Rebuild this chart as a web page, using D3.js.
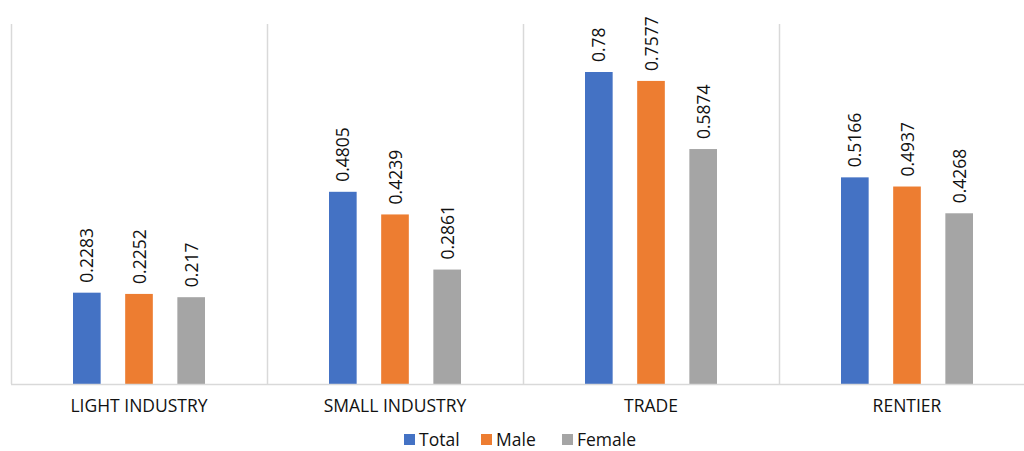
<!DOCTYPE html>
<html>
<head>
<meta charset="utf-8">
<script src="https://cdn.jsdelivr.net/npm/d3@7"></script>
<style>
  body { margin: 0; background: #fff; }
  text { font-family: "Open Sans", "Liberation Sans", sans-serif; fill: #111; }
</style>
</head>
<body>
<div id="canvas"></div>
<script>
const categories = ["LIGHT INDUSTRY", "SMALL INDUSTRY", "TRADE", "RENTIER"];
const seriesNames = ["Total", "Male", "Female"];
const total = [0.2283, 0.4805, 0.78, 0.5166];
const male = [0.2252, 0.4239, 0.7577, 0.4937];
const female = [0.217, 0.2861, 0.5874, 0.4268];
const colors = ["#4472c4", "#ed7d31", "#a5a5a5"];

const width = 1024;
const height = 451;
const margin = { top: 24, left: 11, bottom: 67, right: -11 };
const iwidth = width - margin.left - margin.right;
const iheight = height - margin.top - margin.bottom;

const svg = d3.select("#canvas").append("svg")
  .attr("width", width)
  .attr("height", height);

const g = svg.append("g").attr("transform", `translate(${margin.left},${margin.top})`);

const allSeries = [total, male, female];
const data = categories.map((c, i) => ({
  name: c,
  values: seriesNames.map((s, j) => ({ series: s, value: allSeries[j][i], idx: j }))
}));

const x = d3.scaleBand().domain(categories).range([0, iwidth]).padding(0);
const xin = d3.scaleBand().domain(seriesNames).range([62, 194]).paddingInner(0.47);
const y = d3.scaleLinear().domain([0, 0.9]).range([iheight, 0]);

// vertical separators
g.selectAll("line.sep").data(categories).enter().append("line")
  .attr("class", "sep")
  .attr("x1", d => x(d) + 0.5).attr("x2", d => x(d) + 0.5)
  .attr("y1", 0).attr("y2", iheight)
  .attr("stroke", "#d9d9d9").attr("stroke-width", 1.5);

const groups = g.selectAll("g.cat").data(data).enter().append("g")
  .attr("class", "cat")
  .attr("transform", d => `translate(${x(d.name)},0)`);

groups.selectAll("rect").data(d => d.values).enter().append("rect")
  .attr("x", d => xin(d.series))
  .attr("y", d => y(d.value))
  .attr("width", xin.bandwidth())
  .attr("height", d => iheight - y(d.value))
  .style("fill", d => colors[d.idx]);

groups.selectAll("text.val").data(d => d.values).enter().append("text")
  .attr("class", "val")
  .attr("transform", d => `translate(${xin(d.series) + xin.bandwidth() / 2 + 6.5},${y(d.value) - 10}) rotate(-90)`)
  .attr("font-size", 17.5)
  .text(d => d.value);

// baseline
g.append("line")
  .attr("x1", 0).attr("x2", iwidth)
  .attr("y1", iheight + 0.5).attr("y2", iheight + 0.5)
  .attr("stroke", "#d9d9d9").attr("stroke-width", 1.5);

// category labels
g.selectAll("text.cat").data(categories).enter().append("text")
  .attr("class", "cat")
  .attr("x", d => x(d) + x.bandwidth() / 2)
  .attr("y", iheight + 28)
  .attr("text-anchor", "middle")
  .attr("font-size", 17.5)
  .text(d => d);

// legend
const legendX = [404, 481, 562];
const legend = svg.append("g");
seriesNames.forEach((s, i) => {
  legend.append("rect")
    .attr("x", legendX[i]).attr("y", 434)
    .attr("width", 11).attr("height", 11)
    .style("fill", colors[i]);
  legend.append("text")
    .attr("x", legendX[i] + 15).attr("y", 446)
    .attr("font-size", 17.5)
    .text(s);
});
</script>
</body>
</html>
